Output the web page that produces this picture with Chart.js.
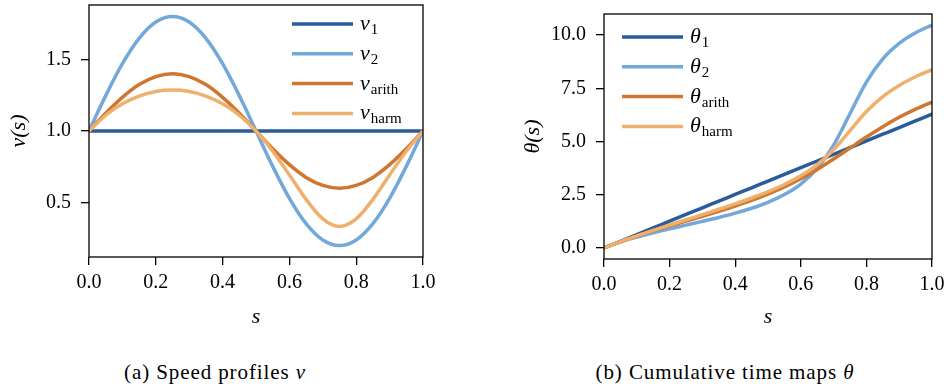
<!DOCTYPE html>
<html lang="en">
<head>
    <meta charset="UTF-8">
    <title>Speed profiles and cumulative time maps</title>
    <script src="https://cdn.jsdelivr.net/npm/chart.js@4.4.1/dist/chart.umd.min.js"></script>
    <style>
        body {
            margin: 0;
            width: 948px;
            height: 389px;
            background: #fff;
            position: relative;
            overflow: hidden;
            font-family: "Liberation Serif", "Times New Roman", "DejaVu Serif", serif;
        }
        .panel { position: absolute; top: 0; height: 330px; }
        #panelA { left: 0; width: 440px; }
        #panelB { left: 510px; width: 438px; }
        .caption {
            position: absolute;
            top: 360px;
            font-size: 21px;
            line-height: 24px;
            letter-spacing: 0.9px;
            color: #000;
            white-space: nowrap;
            transform: translateX(-50%);
        }
        .caption i { font-style: italic; }
    </style>
</head>
<body>
    <div class="panel" id="panelA"><canvas id="chartA" width="440" height="330"></canvas></div>
    <div class="panel" id="panelB"><canvas id="chartB" width="438" height="330"></canvas></div>
    <div class="caption" style="left:215px">(a) Speed profiles <i>v</i></div>
    <div class="caption" style="left:725px">(b) Cumulative time maps <i>θ</i></div>

    <script>
        // arc-length parameter s
        const sVals = [0, 0.05, 0.10, 0.15, 0.20, 0.25, 0.30, 0.35, 0.40, 0.45, 0.50,
                       0.55, 0.60, 0.65, 0.70, 0.75, 0.80, 0.85, 0.90, 0.95, 1.00];

        // (a) speed profiles
        const v1 = [1, 1, 1, 1, 1, 1, 1, 1, 1, 1, 1, 1, 1, 1, 1, 1, 1, 1, 1, 1, 1];
        const v2 = [1.000, 1.247, 1.470, 1.647, 1.761, 1.800, 1.761, 1.647, 1.470, 1.247, 1.000,
                    0.753, 0.530, 0.353, 0.239, 0.200, 0.239, 0.353, 0.530, 0.753, 1.000];
        const vArith = [1.000, 1.124, 1.235, 1.324, 1.380, 1.400, 1.380, 1.324, 1.235, 1.124, 1.000,
                        0.876, 0.765, 0.676, 0.620, 0.600, 0.620, 0.676, 0.765, 0.876, 1.000];
        const vHarm = [1.000, 1.110, 1.190, 1.244, 1.276, 1.286, 1.276, 1.244, 1.190, 1.110, 1.000,
                       0.859, 0.693, 0.522, 0.386, 0.333, 0.386, 0.522, 0.693, 0.859, 1.000];

        // (b) cumulative time maps
        const th1 = [0, 0.314, 0.628, 0.942, 1.257, 1.571, 1.885, 2.199, 2.513, 2.827, 3.142,
                     3.456, 3.770, 4.084, 4.398, 4.712, 5.027, 5.341, 5.655, 5.969, 6.283];
        const th2 = [0, 0.280, 0.512, 0.713, 0.897, 1.072, 1.248, 1.432, 1.633, 1.864, 2.145,
                     2.506, 3.001, 3.733, 4.830, 6.308, 7.787, 8.884, 9.613, 10.110, 10.472];
        const thArith = [0, 0.296, 0.562, 0.808, 1.039, 1.265, 1.490, 1.723, 1.969, 2.234, 2.530,
                         2.865, 3.250, 3.687, 4.175, 4.693, 5.211, 5.698, 6.136, 6.520, 6.856];
        const thHarm = [0, 0.297, 0.570, 0.828, 1.077, 1.322, 1.567, 1.816, 2.073, 2.346, 2.644,
                        2.981, 3.386, 3.909, 4.614, 5.510, 6.407, 7.113, 7.634, 8.040, 8.378];

        // ticks and limits
        const xTicks = [0, 0.2, 0.4, 0.6, 0.8, 1.0];
        const yTicksA = [0.5, 1.0, 1.5];
        const yTicksB = [0, 2.5, 5.0, 7.5, 10.0];
        const yRangeA = [0.12, 1.88];
        const yRangeB = [-0.52, 10.99];

        // legend text: main symbol + subscript
        const legendSubs = ['1', '2', 'arith', 'harm'];
        const colors = ['#2a5b9c', '#73a8da', '#cf7630', '#efb06d'];

        const serif = '"Liberation Serif", "Times New Roman", "DejaVu Serif", serif';
        Chart.defaults.font.family = serif;
        Chart.defaults.font.size = 20;
        Chart.defaults.color = '#000';

        // matplotlib style box around the plot area
        const framePlugin = {
            id: 'frame',
            afterDatasetsDraw(chart) {
                const a = chart.chartArea, ctx = chart.ctx;
                ctx.save();
                ctx.strokeStyle = '#000';
                ctx.lineWidth = 1.3;
                ctx.strokeRect(a.left, a.top, a.right - a.left, a.bottom - a.top);
                ctx.restore();
            }
        };

        // legend with italic symbol and upright subscript
        const subLegend = {
            id: 'subLegend',
            afterDraw(chart, args, opts) {
                const ctx = chart.ctx;
                ctx.save();
                chart.data.datasets.forEach((ds, i) => {
                    const y = opts.y + i * opts.gap;
                    ctx.strokeStyle = ds.borderColor;
                    ctx.lineWidth = 3.5;
                    ctx.beginPath();
                    ctx.moveTo(opts.x, y);
                    ctx.lineTo(opts.x + 61, y);
                    ctx.stroke();
                    ctx.fillStyle = '#000';
                    ctx.textBaseline = 'alphabetic';
                    ctx.font = 'italic 22px ' + serif;
                    ctx.fillText(opts.symbol, opts.x + 68, y + 6);
                    const w = ctx.measureText(opts.symbol).width;
                    ctx.font = '15px ' + serif;
                    ctx.fillText(legendSubs[i], opts.x + 69 + w, y + 10);
                });
                ctx.restore();
            }
        };

        function makeDatasets(series) {
            return series.map((vals, i) => ({
                data: sVals.map((s, k) => ({ x: s, y: vals[k] })),
                borderColor: colors[i],
                borderWidth: 3.5,
                pointRadius: 0,
                cubicInterpolationMode: 'monotone',
                fill: false,
                order: series.length - i
            }));
        }

        function makeChart(id, series, cfg) {
            return new Chart(document.getElementById(id), {
                type: 'line',
                data: { datasets: makeDatasets(series) },
                plugins: [framePlugin, subLegend],
                options: {
                    responsive: false,
                    animation: false,
                    events: [],
                    layout: { padding: { left: 0, right: cfg.padRight, top: cfg.padTop, bottom: 0 } },
                    plugins: {
                        legend: { display: false },
                        tooltip: { enabled: false },
                        subLegend: cfg.legend
                    },
                    scales: {
                        x: {
                            type: 'linear',
                            min: 0,
                            max: 1,
                            afterBuildTicks: s => { s.ticks = xTicks.map(v => ({ value: v })); },
                            afterFit: s => { s.height = cfg.xHeight; s.paddingLeft = 0; s.paddingRight = 0; },
                            ticks: { padding: 6, callback: v => v.toFixed(1) },
                            grid: { drawOnChartArea: false, color: '#000', lineWidth: 1.3, tickLength: 8 },
                            border: { display: false },
                            title: {
                                display: true,
                                text: 's',
                                font: { style: 'italic', size: 22 },
                                padding: { top: 0, bottom: 0 }
                            }
                        },
                        y: {
                            min: cfg.yRange[0],
                            max: cfg.yRange[1],
                            afterBuildTicks: s => { s.ticks = cfg.yTicks.map(v => ({ value: v })); },
                            afterFit: s => { s.width = cfg.yWidth; s.paddingTop = 0; s.paddingBottom = 0; },
                            ticks: { padding: 10, callback: v => v.toFixed(1) },
                            grid: { drawOnChartArea: false, color: '#000', lineWidth: 1.3, tickLength: 8 },
                            border: { display: false },
                            title: {
                                display: true,
                                text: cfg.yTitle,
                                font: { style: 'italic', size: 22 },
                                padding: { top: cfg.yTitlePad, bottom: 0 }
                            }
                        }
                    }
                }
            });
        }

        makeChart('chartA', [v1, v2, vArith, vHarm], {
            padRight: 17, padTop: 5, xHeight: 73, yWidth: 89,
            yRange: yRangeA, yTicks: yTicksA, yTitle: 'v(s)', yTitlePad: 6,
            legend: { x: 292, y: 24, gap: 29.8, symbol: 'v' }
        });

        makeChart('chartB', [th1, th2, thArith, thHarm], {
            padRight: 16, padTop: 14, xHeight: 71, yWidth: 94,
            yRange: yRangeB, yTicks: yTicksB, yTitle: 'θ(s)', yTitlePad: 10,
            legend: { x: 112, y: 37, gap: 29.8, symbol: 'θ' }
        });
    </script>
</body>
</html>
